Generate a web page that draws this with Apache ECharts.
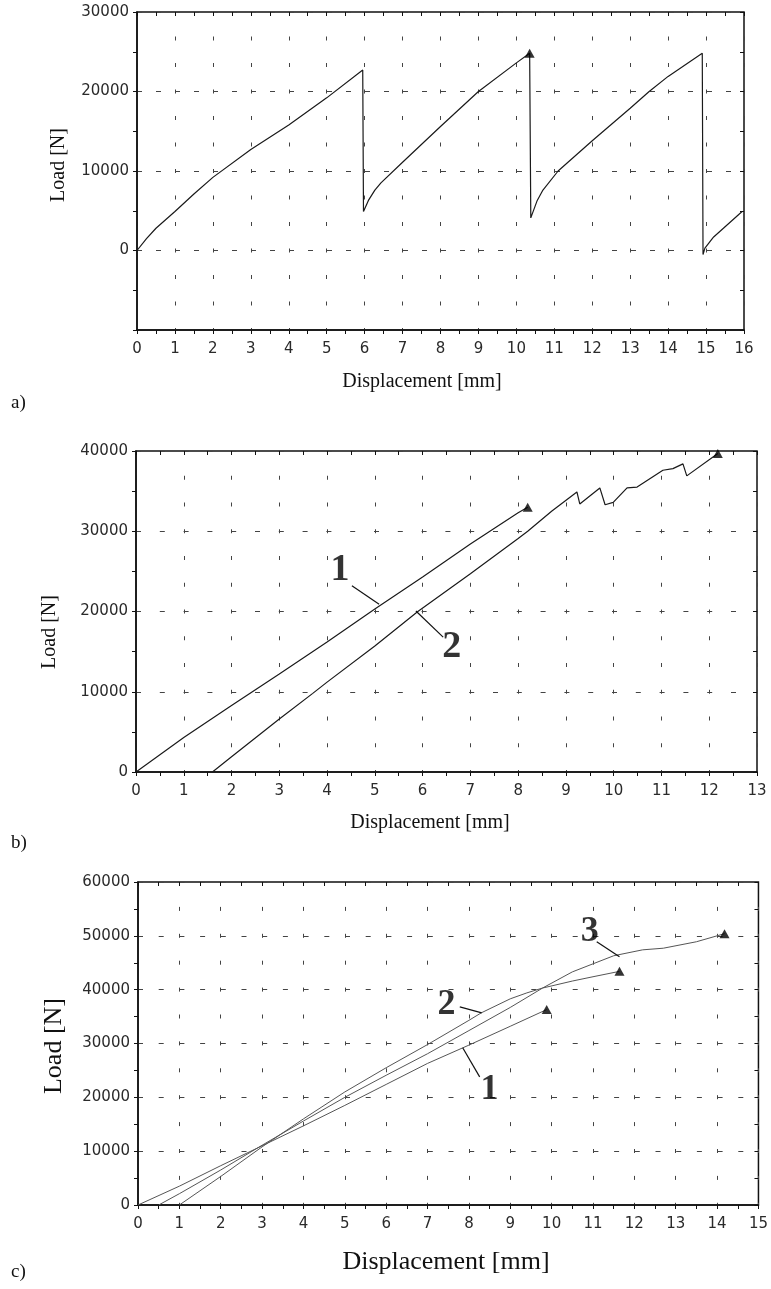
<!DOCTYPE html>
<html>
<head>
<meta charset="utf-8">
<script src="https://cdn.jsdelivr.net/npm/echarts@6/dist/echarts.min.js"></script>
<style>
    html, body { margin: 0; padding: 0; background: #fff; }
    #chart { width: 771px; height: 1289px; }
</style>
</head>
<body>
<div id="chart"></div>
<script>
// a) 位移-载荷 (锯齿形, 三次断裂)
var aDisp = [0, 0.25, 0.5, 1, 1.5, 2, 3, 4, 5, 5.95, 5.97, 6.1, 6.27, 6.43, 7, 8, 9, 10, 10.35,
             10.38, 10.55, 10.7, 11.1, 12, 13, 13.5, 14, 14.9, 14.92, 14.97, 15.2, 15.95];
var aLoad = [0, 1500, 2800, 4900, 7100, 9200, 12700, 15800, 19200, 22700, 4900, 6300, 7600, 8500, 11100, 15600, 20000, 23600, 24800,
             4100, 6300, 7600, 10000, 13800, 17900, 20000, 21900, 24800, -500, 300, 1700, 4900];
var aPeakDisp = [10.35];
var aPeakLoad = [24800];

// b) 两条曲线
var b1Disp = [0, 1, 2, 3, 4, 5, 6, 7, 8, 8.2];
var b1Load = [0, 4300, 8300, 12200, 16200, 20300, 24300, 28400, 32300, 33000];
var b2Disp = [1.6, 2, 3, 3.7, 4, 5, 5.9, 7, 8, 8.2, 8.7, 9.23, 9.29, 9.71, 9.82, 9.99, 10.28, 10.49, 11.03, 11.24, 11.45, 11.53, 12.18];
var b2Load = [0, 1900, 6600, 9800, 11200, 15700, 20000, 24700, 29100, 30000, 32500, 34900, 33400, 35400, 33300, 33600, 35400, 35500, 37600, 37800, 38400, 36900, 39700];
var bPeakDisp = [8.2, 12.18];
var bPeakLoad = [33000, 39700];

// c) 三条曲线
var c1Disp = [0, 1, 2, 3, 4, 5, 6, 7, 8, 9, 9.88];
var c1Load = [0, 3500, 7300, 11000, 14700, 18500, 22400, 26300, 29700, 33200, 36300];
var c2Disp = [1.0, 2, 3, 4, 5, 6, 7, 8, 8.3, 9, 9.4, 9.78, 10.5, 11, 11.64];
var c2Load = [0, 5300, 10800, 16000, 21000, 25500, 29800, 34300, 35700, 38300, 39400, 40300, 41600, 42400, 43400];
var c3Disp = [0.5, 1, 2, 3, 4, 5, 6, 7, 8, 9, 9.78, 10.5, 11.5, 12.2, 12.7, 13.5, 14.18];
var c3Load = [0, 2100, 6500, 11100, 15600, 20000, 24100, 28100, 32400, 36700, 40300, 43300, 46300, 47400, 47700, 48900, 50400];
var cPeakDisp = [9.88, 11.64, 14.18];
var cPeakLoad = [36300, 43400, 50400];

// 曲线编号 (数据坐标) 和引线
var bTagText = ['1', '2'];
var bTagDisp = [4.27, 6.61];
var bTagLoad = [25200, 15600];
var bLeadFrom = [[4.52, 23200], [6.43, 16800]];
var bLeadTo = [[5.09, 20900], [5.86, 20060]];

var cTagText = ['1', '2', '3'];
var cTagDisp = [8.5, 7.46, 10.92];
var cTagLoad = [21400, 37200, 50700];
var cLeadFrom = [[8.26, 23800], [7.78, 36800], [11.09, 48900]];
var cLeadTo = [[7.85, 29200], [8.31, 35700], [11.64, 46100]];

// 坐标轴范围
var xMax = [16, 13, 15];
var yMin = [-10000, 0, 0];
var yMax = [30000, 40000, 60000];

// 把两个数组合成 [x,y]
function pairs( xs, ys ) {
    var out = [];
    for ( var i = 0; i < xs.length; i++ ){
        out.push( [ xs[ i ], ys[ i ] ] );
    }
    return out;
}

var grids = [
    { left: 137, top: 12, width: 607, height: 318 },
    { left: 136, top: 451, width: 621, height: 321 },
    { left: 138, top: 882, width: 621, height: 323 }
];
// 竖向网格虚线的周期 (像素)
var vPeriod = [26.5, 26.75, 26.9];
var hDash = [[5, 14], [5, 18.8], [5, 15.7]];

// 刻度文字, 不要千分位逗号
var tickFont = { fontFamily: 'DejaVu Sans', fontSize: 15, color: '#2a2a2a',
                 formatter: function( v ){ return String( v ); } };

var xAxes = [], yAxes = [];
for ( var g = 0; g < 3; g++ ){
    xAxes.push({
        gridIndex: g, type: 'value', min: 0, max: xMax[ g ], interval: 1,
        axisLine: { onZero: false, lineStyle: { color: '#111', width: 1.5 } },
        axisTick: { length: 4, lineStyle: { color: '#111' } },
        minorTick: { show: true, splitNumber: 2, length: 4, lineStyle: { color: '#111' } },
        axisLabel: Object.assign( { margin: 12 }, tickFont ),
        splitLine: { show: true, lineStyle: { color: '#444', width: 1, type: [ 4, vPeriod[ g ] - 4 ], dashOffset: 2 } }
    });
    yAxes.push({
        gridIndex: g, type: 'value', min: yMin[ g ], max: yMax[ g ], interval: 10000,
        axisLine: { onZero: false, lineStyle: { color: '#111', width: 1.5 } },
        axisTick: { length: 4, lineStyle: { color: '#111' } },
        minorTick: { show: true, splitNumber: 2, length: 4, lineStyle: { color: '#111' } },
        axisLabel: Object.assign( { margin: 8, showMinLabel: g !== 0 }, tickFont ),
        splitLine: { show: true, lineStyle: { color: '#444', width: 1, type: hDash[ g ] } }
    });
}
// 叠加一套轴, 刻度朝内, 做出十字刻度
for ( var g2 = 0; g2 < 3; g2++ ){
    xAxes.push({
        gridIndex: g2, type: 'value', min: 0, max: xMax[ g2 ], interval: 1,
        axisLine: { show: false, onZero: false }, axisLabel: { show: false }, splitLine: { show: false },
        axisTick: { inside: true, length: 4, lineStyle: { color: '#111' } },
        minorTick: { show: true, splitNumber: 2, length: 4, lineStyle: { color: '#111' } }
    });
    yAxes.push({
        gridIndex: g2, type: 'value', min: yMin[ g2 ], max: yMax[ g2 ], interval: 10000,
        axisLine: { show: false, onZero: false }, axisLabel: { show: false }, splitLine: { show: false },
        axisTick: { inside: true, length: 4, lineStyle: { color: '#111' } },
        minorTick: { show: true, splitNumber: 2, length: 4, lineStyle: { color: '#111' } }
    });
}

function curve( idx, xs, ys, color, width ) {
    return {
        type: 'line', xAxisIndex: idx, yAxisIndex: idx, data: pairs( xs, ys ),
        symbol: 'none', showSymbol: false, silent: true,
        lineStyle: { color: color, width: width }, z: 3
    };
}
function peaks( idx, xs, ys ) {
    return {
        type: 'scatter', xAxisIndex: idx, yAxisIndex: idx, data: pairs( xs, ys ),
        symbol: 'triangle', symbolSize: [ 10, 9 ], itemStyle: { color: '#000' }, z: 4
    };
}
function tags( idx, names, xs, ys, size ) {
    var d = [];
    for ( var i = 0; i < names.length; i++ ){
        d.push( { name: names[ i ], value: [ xs[ i ], ys[ i ] ] } );
    }
    return {
        type: 'scatter', xAxisIndex: idx, yAxisIndex: idx, data: d, symbolSize: 0,
        label: { show: true, position: 'inside', formatter: '{b}', color: '#000',
                 fontFamily: 'Liberation Serif', fontWeight: 'bold', fontSize: size },
        z: 5
    };
}
function leaders( idx, from, to ) {
    var d = [];
    for ( var i = 0; i < from.length; i++ ){
        d.push( { coords: [ from[ i ], to[ i ] ] } );
    }
    return {
        type: 'lines', coordinateSystem: 'cartesian2d', xAxisIndex: idx, yAxisIndex: idx,
        data: d, lineStyle: { color: '#111', width: 1.2, opacity: 1 }, z: 5
    };
}

var serifTitle = 'Liberation Serif';
function txt( x, y, text, size, rot, align ) {
    return {
        type: 'text', x: x, y: y, rotation: rot ? Math.PI / 2 : 0,
        style: { text: text, fill: '#111', font: size + 'px "' + serifTitle + '"',
                 align: align || 'center', verticalAlign: 'middle' }
    };
}

var option = {
    animation: false,
    backgroundColor: '#fff',
    grid: grids.map( function( r ){
        return Object.assign( { show: true, borderColor: '#111', borderWidth: 1.5, backgroundColor: 'transparent' }, r );
    }),
    xAxis: xAxes,
    yAxis: yAxes,
    series: [
        curve( 0, aDisp, aLoad, '#1a1a1a', 1.2 ),
        peaks( 0, aPeakDisp, aPeakLoad ),
        curve( 1, b1Disp, b1Load, '#1a1a1a', 1.2 ),
        curve( 1, b2Disp, b2Load, '#1a1a1a', 1.2 ),
        peaks( 1, bPeakDisp, bPeakLoad ),
        tags( 1, bTagText, bTagDisp, bTagLoad, 38 ),
        leaders( 1, bLeadFrom, bLeadTo ),
        curve( 2, c1Disp, c1Load, '#555', 1 ),
        curve( 2, c2Disp, c2Load, '#555', 1 ),
        curve( 2, c3Disp, c3Load, '#555', 1 ),
        peaks( 2, cPeakDisp, cPeakLoad ),
        tags( 2, cTagText, cTagDisp, cTagLoad, 36 ),
        leaders( 2, cLeadFrom, cLeadTo )
    ],
    graphic: [
        txt( 59, 165, 'Load [N]', 20, true ),
        txt( 422, 382, 'Displacement [mm]', 20 ),
        txt( 11, 403, 'a)', 19, false, 'left' ),
        txt( 50, 632, 'Load [N]', 20, true ),
        txt( 430, 823, 'Displacement [mm]', 20 ),
        txt( 11, 843, 'b)', 19, false, 'left' ),
        txt( 54, 1046, 'Load [N]', 26, true ),
        txt( 446, 1262, 'Displacement [mm]', 26 ),
        txt( 11, 1272, 'c)', 19, false, 'left' )
    ]
};

var myChart = echarts.init( document.getElementById( 'chart' ) );
myChart.setOption( option );
</script>
</body>
</html>
